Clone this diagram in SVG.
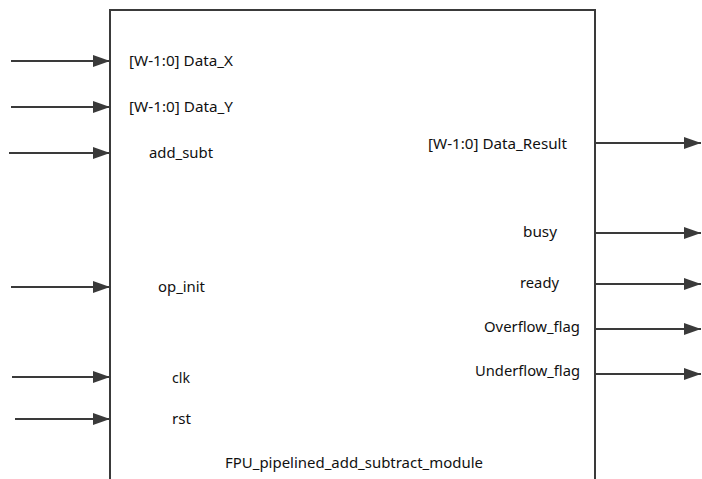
<svg xmlns="http://www.w3.org/2000/svg" width="702" height="479" viewBox="0 0 702 479">
  <style>
    .wire { stroke: #3a3a3a; stroke-width: 2; fill: none; }
    .box { stroke: #3a3a3a; stroke-width: 2; fill: #ffffff; }
    text { font-family: "Noto Sans", "Open Sans", sans-serif; font-size: 14.5px; fill: #111111; }
    .end { text-anchor: end; }
  </style>
  <defs>
    <marker id="arrow" markerWidth="17" markerHeight="12" refX="17" refY="6" orient="auto" markerUnits="userSpaceOnUse">
      <path d="M0,0 L17,6 L0,12 Z" fill="#3a3a3a"/>
    </marker>
  </defs>

  <!-- module body (open at the bottom edge of the drawing) -->
  <g id="module">
    <path class="box" d="M110,482 L110,10 L595,10 L595,482"/>
    <text x="225" y="468" textLength="258" lengthAdjust="spacingAndGlyphs">FPU_pipelined_add_subtract_module</text>
  </g>

  <!-- port connectors -->
  <g id="connectors">
    <line class="wire" x1="11" y1="61" x2="110" y2="61" marker-end="url(#arrow)"/>
    <line class="wire" x1="11" y1="107" x2="110" y2="107" marker-end="url(#arrow)"/>
    <line class="wire" x1="9" y1="153" x2="110" y2="153" marker-end="url(#arrow)"/>
    <line class="wire" x1="11" y1="287" x2="110" y2="287" marker-end="url(#arrow)"/>
    <line class="wire" x1="12" y1="377" x2="110" y2="377" marker-end="url(#arrow)"/>
    <line class="wire" x1="15" y1="419" x2="110" y2="419" marker-end="url(#arrow)"/>
    <line class="wire" x1="595" y1="143" x2="701" y2="143" marker-end="url(#arrow)"/>
    <line class="wire" x1="595" y1="233" x2="701" y2="233" marker-end="url(#arrow)"/>
    <line class="wire" x1="595" y1="284" x2="701" y2="284" marker-end="url(#arrow)"/>
    <line class="wire" x1="595" y1="329" x2="701" y2="329" marker-end="url(#arrow)"/>
    <line class="wire" x1="595" y1="374" x2="701" y2="374" marker-end="url(#arrow)"/>
  </g>

  <!-- input ports -->
  <g id="in_data_x"><text x="129" y="66" textLength="104" lengthAdjust="spacingAndGlyphs">[W-1:0] Data_X</text></g>
  <g id="in_data_y"><text x="129" y="112" textLength="104" lengthAdjust="spacingAndGlyphs">[W-1:0] Data_Y</text></g>
  <g id="in_add_subt"><text x="149" y="158" textLength="64" lengthAdjust="spacingAndGlyphs">add_subt</text></g>
  <g id="in_op_init"><text x="158" y="292" textLength="47" lengthAdjust="spacingAndGlyphs">op_init</text></g>
  <g id="in_clk"><text x="172" y="383" textLength="18" lengthAdjust="spacingAndGlyphs">clk</text></g>
  <g id="in_rst"><text x="172" y="424" textLength="19" lengthAdjust="spacingAndGlyphs">rst</text></g>

  <!-- output ports -->
  <g id="out_data_result"><text class="end" x="567" y="149" textLength="139" lengthAdjust="spacingAndGlyphs">[W-1:0] Data_Result</text></g>
  <g id="out_busy"><text class="end" x="557" y="237" textLength="34" lengthAdjust="spacingAndGlyphs">busy</text></g>
  <g id="out_ready"><text class="end" x="559" y="288" textLength="39" lengthAdjust="spacingAndGlyphs">ready</text></g>
  <g id="out_overflow"><text class="end" x="580" y="332" textLength="96" lengthAdjust="spacingAndGlyphs">Overflow_flag</text></g>
  <g id="out_underflow"><text class="end" x="580" y="376" textLength="105" lengthAdjust="spacingAndGlyphs">Underflow_flag</text></g>
</svg>
